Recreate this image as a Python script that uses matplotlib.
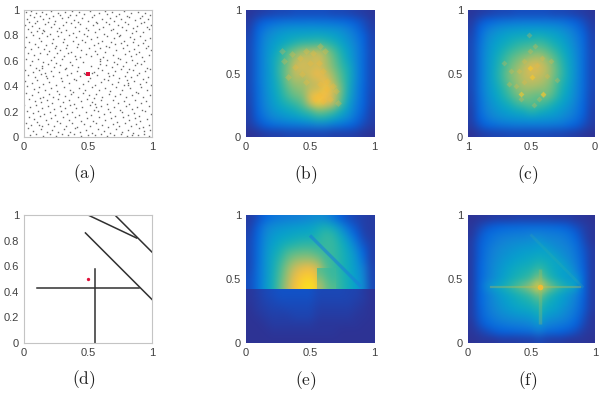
import matplotlib
matplotlib.use('Agg')
import matplotlib.pyplot as plt
from matplotlib.colors import LinearSegmentedColormap

plt.rcParams['font.family'] = ['Liberation Sans', 'DejaVu Sans']
plt.rcParams['mathtext.fontset'] = 'cm'

# ---- data ----
captions = ['(a)', '(b)', '(c)', '(d)', '(e)', '(f)']
ticks_fine = [0, 0.2, 0.4, 0.6, 0.8, 1]
ticks_fine_labels = ['0', '0.2', '0.4', '0.6', '0.8', '1']
ticks_coarse = [0, 0.5, 1]
ticks_coarse_labels = ['0', '0.5', '1']

source_x = 0.497
source_y = 0.5

# walls of panel (d): x0, x1, y0, y1
wall_1 = [0.50, 0.88, 1.00, 0.82]
wall_2 = [0.71, 1.00, 1.00, 0.71]
wall_3 = [0.48, 1.00, 0.86, 0.34]
wall_4 = [0.10, 0.90, 0.43, 0.43]
wall_5 = [0.555, 0.555, 0.00, 0.58]

# dots of panel (a), hand estimated from the crops, not every dot is resolved
dots = [
    (.013,.984),(.047,.962),(.058,.991),(.091,.973),(.126,.955),(.139,.988),(.171,.967),(.208,.992),(.224,.951),(.263,.978),
    (.281,.959),(.317,.986),(.356,.964),(.372,.993),(.404,.957),(.433,.981),(.471,.969),(.512,.989),(.548,.958),(.583,.976),
    (.634,.992),(.652,.965),(.689,.983),(.716,.949),(.744,.971),(.779,.995),(.803,.954),(.836,.979),(.892,.987),(.921,.952),
    (.947,.974),(.984,.958),(.022,.931),(.036,.908),(.079,.944),(.104,.917),(.152,.926),(.187,.903),(.196,.939),(.243,.912),
    (.298,.934),(.327,.906),(.341,.942),(.389,.921),(.418,.902),(.456,.936),(.497,.914),(.529,.943),(.561,.908),(.608,.927),
    (.643,.904),(.671,.938),(.702,.916),(.757,.933),(.788,.909),(.821,.941),(.868,.918),(.904,.936),(.936,.907),(.968,.929),
    (.009,.883),(.064,.872),(.083,.897),(.117,.861),(.163,.889),(.214,.868),(.236,.893),(.272,.857),(.308,.881),(.364,.894),
    (.397,.863),(.441,.886),(.483,.859),(.537,.878),(.574,.896),(.619,.869),(.661,.887),(.698,.854),(.733,.879),(.769,.863),
    (.812,.891),(.849,.858),(.881,.877),(.913,.898),(.958,.866),(.991,.882),(.028,.847),(.052,.826),(.098,.838),(.143,.819),
    (.148,.842),(.158,.831),(.202,.811),(.254,.836),(.289,.823),(.332,.845),(.379,.816),(.426,.834),(.466,.808),(.503,.841),
    (.554,.827),(.589,.851),(.627,.813),(.682,.839),(.726,.822),(.751,.807),(.794,.844),(.843,.817),(.876,.835),(.927,.826),
    (.973,.848),(.017,.789),(.069,.803),(.121,.782),(.178,.798),(.229,.773),(.267,.794),(.314,.768),(.351,.801),(.408,.784),
    (.452,.762),(.491,.797),(.523,.771),(.568,.788),(.612,.759),(.648,.793),(.707,.776),(.739,.798),(.783,.757),(.827,.786),
    (.862,.771),(.908,.795),(.943,.764),(.988,.781),(.041,.749),(.087,.733),(.133,.756),(.169,.728),(.218,.744),(.249,.718),
    (.303,.747),(.338,.726),(.384,.752),(.421,.731),(.476,.746),(.543,.723),(.581,.741),(.638,.716),(.677,.749),(.712,.729),
    (.761,.738),(.806,.721),(.851,.747),(.889,.726),(.931,.742),(.966,.713),(.006,.706),(.057,.689),(.109,.711),(.154,.694),
    (.196,.678),(.241,.703),(.278,.684),(.325,.697),(.369,.672),(.413,.709),(.448,.687),(.508,.702),(.552,.679),(.597,.698),
    (.631,.668),(.664,.707),(.721,.686),(.772,.703),(.817,.674),(.858,.692),(.902,.669),(.951,.701),(.995,.683),(.032,.659),
    (.076,.642),(.124,.664),(.182,.651),(.233,.627),(.261,.658),(.309,.636),(.346,.662),(.398,.641),(.437,.626),(.482,.653),
    (.527,.637),(.573,.657),(.618,.632),(.692,.648),(.734,.621),(.788,.651),(.833,.634),(.876,.656),(.919,.629),(.977,.644),
    (.019,.612),(.063,.596),(.113,.618),(.147,.589),(.208,.606),(.252,.584),(.294,.611),(.358,.594),(.403,.616),(.461,.591),
    (.591,.612),(.594,.596),(.592,.578),(.648,.603),(.703,.587),(.749,.614),(.796,.592),(.842,.609),(.886,.583),(.938,.601),
    (.043,.568),(.094,.547),(.137,.562),(.142,.541),(.191,.576),(.238,.553),(.283,.569),(.331,.543),(.376,.566),(.418,.551),
    (.527,.562),(.579,.544),(.641,.567),(.689,.548),(.727,.573),(.771,.556),(.823,.538),(.867,.564),(.911,.577),(.961,.546),
    (.011,.527),(.072,.512),(.119,.531),(.166,.506),(.213,.521),(.271,.509),(.322,.532),(.367,.504),(.412,.523),(.468,.507),
    (.476,.498),(.528,.503),(.549,.511),(.607,.526),(.658,.503),(.714,.519),(.758,.533),(.807,.508),(.853,.524),(.898,.501),
    (.949,.519),(.986,.534),(.034,.487),(.085,.471),(.129,.493),(.177,.462),(.223,.483),(.168,.478),(.286,.466),(.339,.488),
    (.392,.459),(.439,.479),(.518,.468),(.571,.486),(.623,.458),(.667,.477),(.699,.491),(.743,.464),(.791,.482),(.802,.451),
    (.838,.469),(.881,.489),(.926,.456),(.971,.474),(.007,.443),(.059,.428),(.102,.447),(.151,.419),(.198,.436),(.247,.411),
    (.299,.441),(.352,.424),(.407,.445),(.458,.417),(.503,.438),(.556,.412),(.602,.433),(.653,.449),(.684,.418),(.731,.437),
    (.779,.409),(.812,.429),(.814,.412),(.859,.442),(.907,.416),(.953,.436),(.993,.411),(.026,.398),(.078,.376),(.116,.392),
    (.161,.371),(.209,.387),(.258,.364),(.312,.396),(.361,.373),(.383,.352),(.429,.389),(.474,.367),(.531,.394),(.584,.369),
    (.629,.386),(.672,.361),(.718,.392),(.764,.372),(.829,.384),(.873,.358),(.917,.391),(.964,.367),(.014,.347),(.061,.328),
    (.107,.351),(.146,.318),(.194,.339),(.227,.316),(.276,.341),(.321,.323),(.371,.338),(.423,.312),(.463,.344),(.509,.327),
    (.547,.309),(.566,.336),(.612,.318),(.663,.342),(.708,.321),(.753,.339),(.798,.313),(.847,.331),(.893,.349),(.932,.317),
    (.981,.334),(.039,.297),(.089,.282),(.128,.304),(.134,.276),(.179,.293),(.219,.268),(.264,.299),(.306,.274),(.348,.291),
    (.394,.263),(.444,.283),(.496,.301),(.533,.272),(.558,.256),(.598,.289),(.646,.263),(.694,.294),(.737,.271),(.782,.286),
    (.824,.259),(.869,.292),(.914,.268),(.957,.284),(.003,.254),(.049,.233),(.097,.251),(.141,.226),(.186,.243),(.234,.218),
    (.281,.247),(.317,.229),(.363,.252),(.409,.227),(.451,.239),(.512,.249),(.543,.216),(.559,.233),(.604,.247),(.657,.224),
    (.701,.238),(.747,.214),(.793,.246),(.841,.221),(.884,.237),(.923,.212),(.975,.243),(.021,.203),(.068,.186),(.112,.207),
    (.157,.179),(.204,.196),(.244,.172),(.292,.204),(.334,.183),(.378,.199),(.432,.176),(.486,.194),(.521,.171),(.576,.201),
    (.622,.178),(.669,.193),(.711,.169),(.766,.198),(.809,.176),(.856,.191),(.899,.167),(.946,.202),(.992,.184),(.037,.158),
    (.082,.139),(.123,.162),(.168,.132),(.213,.151),(.259,.127),(.303,.156),(.354,.136),(.401,.161),(.443,.129),(.494,.148),
    (.538,.124),(.587,.154),(.636,.131),(.679,.149),(.724,.122),(.776,.157),(.819,.134),(.864,.152),(.905,.126),(.961,.141),
    (.012,.109),(.056,.092),(.101,.116),(.144,.087),(.191,.104),(.118,.095),(.237,.083),(.284,.112),(.326,.089),(.373,.107),
    (.416,.081),(.467,.101),(.517,.086),(.563,.114),(.609,.093),(.654,.078),(.697,.106),(.741,.084),(.787,.111),(.834,.088),
    (.878,.103),(.929,.079),(.978,.097),(.029,.067),(.074,.048),(.131,.064),(.176,.041),(.221,.058),(.269,.036),(.311,.062),
    (.359,.043),(.396,.069),(.438,.039),(.481,.057),(.534,.034),(.579,.063),(.626,.046),(.673,.029),(.719,.061),(.762,.042),
    (.814,.056),(.852,.031),(.896,.067),(.941,.044),(.987,.059),(.044,.018),(.093,.026),(.149,.011),(.201,.021),(.252,.009),
    (.296,.024),(.343,.014),(.391,.027),(.447,.008),(.501,.019),(.556,.012),(.601,.023),(.648,.007),(.706,.017),(.754,.026),
    (.801,.009),(.846,.019),(.887,.012),(.934,.024),(.974,.006)]
dots_x = [p[0] for p in dots]
dots_y = [p[1] for p in dots]

# bright mottled spots over the smooth grids of (b) and (c)
spots_b_x = [.42, .47, .52, .58, .62, .38, .44, .36, .50, .57, .60, .63, .68, .54, .57, .60, .66, .70, .72, .58, .63, .30, .33, .28, .47]
spots_b_y = [.62, .68, .66, .72, .68, .55, .50, .65, .58, .58, .52, .44, .40, .30, .33, .28, .30, .36, .27, .42, .38, .60, .47, .68, .43]
spots_c_x = [.56, .51, .47, .42, .62, .66, .58, .44, .38, .60, .35, .68, .52, .48, .41, .72, .30, .56, .46]
spots_c_y = [.60, .68, .72, .62, .40, .52, .30, .30, .48, .52, .60, .42, .80, .25, .33, .58, .45, .43, .57]
hot_c_x = [.51, .50, .58, .41]
hot_c_y = [.54, .47, .335, .335]

# intensity grids, first row is the top of the panel, values in percent of the colour range
grid_b = [
    [3, 4, 5, 6, 7, 7, 8, 8, 8, 8, 8, 7, 7, 6, 5, 4, 3],
    [4, 9, 13, 15, 17, 18, 18, 18, 19, 18, 18, 17, 16, 14, 11, 8, 4],
    [5, 13, 20, 25, 28, 30, 31, 31, 31, 31, 30, 29, 27, 23, 17, 10, 5],
    [6, 15, 25, 30, 34, 37, 38, 39, 40, 41, 40, 37, 33, 28, 21, 13, 6],
    [7, 16, 27, 33, 38, 42, 47, 50, 50, 52, 49, 46, 38, 31, 24, 14, 6],
    [7, 17, 28, 35, 45, 54, 60, 66, 68, 70, 64, 54, 45, 35, 25, 15, 7],
    [7, 17, 28, 38, 48, 58, 68, 74, 72, 77, 68, 58, 48, 37, 26, 15, 7],
    [7, 17, 28, 37, 50, 60, 74, 76, 72, 76, 68, 60, 50, 42, 27, 15, 7],
    [7, 17, 28, 37, 50, 62, 72, 72, 76, 82, 74, 64, 54, 44, 28, 15, 7],
    [7, 17, 28, 36, 48, 60, 68, 66, 72, 74, 82, 68, 56, 44, 27, 15, 7],
    [7, 16, 27, 36, 46, 56, 62, 64, 72, 72, 86, 76, 60, 42, 26, 14, 7],
    [6, 16, 26, 34, 44, 52, 58, 60, 80, 86, 82, 74, 58, 40, 25, 14, 6],
    [6, 15, 25, 33, 40, 46, 50, 56, 74, 88, 78, 74, 54, 36, 23, 13, 6],
    [5, 14, 23, 30, 34, 38, 42, 48, 52, 60, 58, 52, 42, 32, 21, 12, 5],
    [5, 12, 19, 25, 28, 31, 33, 36, 40, 45, 44, 38, 32, 26, 17, 10, 5],
    [4, 8, 12, 15, 17, 18, 19, 20, 21, 23, 22, 19, 17, 14, 11, 7, 4],
    [2, 3, 4, 5, 5, 6, 6, 6, 6, 6, 6, 5, 5, 5, 4, 3, 2]]

# columns run left to right as drawn, panel (c) has a reversed x axis
grid_c = [
    [3, 4, 5, 6, 7, 7, 8, 8, 8, 8, 8, 7, 7, 6, 5, 4, 3],
    [4, 9, 13, 16, 18, 19, 20, 20, 20, 20, 20, 19, 18, 15, 12, 8, 4],
    [5, 13, 21, 26, 29, 31, 32, 33, 33, 33, 32, 31, 28, 24, 18, 11, 5],
    [6, 15, 26, 31, 35, 38, 40, 41, 42, 44, 41, 38, 34, 29, 22, 14, 6],
    [7, 17, 28, 34, 39, 43, 47, 49, 50, 52, 49, 44, 39, 32, 24, 15, 6],
    [7, 18, 29, 36, 43, 49, 53, 56, 58, 60, 56, 50, 43, 35, 26, 16, 7],
    [7, 18, 30, 38, 47, 54, 59, 63, 68, 70, 64, 56, 47, 37, 27, 16, 7],
    [7, 18, 30, 39, 49, 57, 63, 70, 78, 76, 70, 60, 49, 38, 28, 16, 7],
    [7, 18, 30, 40, 50, 60, 66, 72, 76, 74, 70, 60, 50, 39, 28, 16, 7],
    [7, 18, 30, 39, 49, 58, 64, 70, 72, 70, 66, 58, 48, 38, 27, 16, 7],
    [7, 18, 29, 37, 46, 54, 62, 66, 66, 64, 62, 56, 45, 36, 26, 16, 7],
    [6, 17, 28, 35, 43, 50, 58, 62, 58, 56, 60, 52, 42, 34, 25, 15, 6],
    [6, 16, 26, 32, 38, 44, 50, 54, 56, 54, 50, 44, 37, 31, 23, 14, 6],
    [5, 15, 24, 29, 33, 36, 40, 42, 48, 44, 40, 36, 32, 27, 21, 13, 5],
    [5, 13, 20, 25, 28, 30, 31, 32, 33, 32, 31, 30, 27, 23, 18, 11, 5],
    [4, 9, 14, 16, 18, 19, 20, 20, 20, 20, 20, 19, 18, 15, 12, 8, 4],
    [2, 4, 5, 6, 6, 7, 7, 7, 7, 7, 7, 6, 6, 5, 4, 3, 2]]

# panel (e) jumps at the horizontal wall and at the vertical one,
# so it has one grid above, one below and one for the shaded piece
wall_e = 0.42
shade_e_x = 0.557
shade_e_right = 0.70
shade_e_top = 0.58
stripe_e_x = [0.50, 0.90]
stripe_e_y = [0.84, 0.44]
grid_e_upper = [
    [4, 8, 14, 19, 21, 22, 23, 24, 26, 28, 26, 20, 12, 8, 6, 5, 4],
    [5, 12, 23, 28, 30, 32, 33, 34, 36, 40, 44, 38, 28, 16, 9, 5, 4],
    [6, 14, 26, 32, 35, 37, 39, 40, 40, 46, 50, 48, 38, 26, 13, 6, 4],
    [7, 15, 28, 35, 40, 44, 46, 48, 48, 48, 50, 50, 44, 34, 21, 9, 5],
    [7, 16, 29, 38, 45, 52, 55, 56, 56, 52, 50, 50, 46, 38, 28, 13, 5],
    [7, 16, 30, 40, 49, 58, 64, 66, 66, 62, 52, 50, 46, 40, 31, 17, 5],
    [7, 17, 30, 41, 52, 64, 74, 80, 82, 74, 56, 50, 46, 40, 33, 23, 6],
    [8, 17, 30, 42, 54, 67, 80, 88, 90, 80, 58, 52, 47, 41, 34, 25, 6],
    [8, 17, 31, 42, 56, 70, 84, 93, 95, 88, 60, 54, 48, 42, 35, 27, 7]]
grid_e_shade = [
    [56, 52, 50],
    [62, 55, 51],
    [68, 58, 54]]
grid_e_lower = [
    [3, 5, 7, 8, 9, 9, 9, 9, 9, 7, 7, 7, 7, 6, 6, 4, 2],
    [3, 4, 6, 7, 8, 8, 8, 8, 8, 6, 6, 6, 6, 6, 5, 4, 2],
    [2, 4, 5, 6, 6, 7, 7, 7, 7, 5, 5, 5, 5, 5, 4, 3, 2],
    [2, 3, 4, 5, 5, 5, 6, 6, 6, 4, 4, 4, 4, 4, 3, 3, 2],
    [2, 2, 3, 4, 4, 4, 4, 4, 4, 3, 3, 3, 3, 3, 3, 2, 2],
    [2, 2, 2, 3, 3, 3, 3, 3, 3, 3, 3, 3, 2, 2, 2, 2, 2],
    [2, 2, 2, 2, 2, 2, 2, 2, 2, 2, 2, 2, 2, 2, 2, 2, 2]]

# thin arms of the cross in (f)
cross_f_x = 0.567
cross_f_y = 0.44
arm_h_x = [0.18, 0.88]
arm_v_y = [0.15, 0.58]
grid_f = [
    [2, 3, 3, 4, 4, 4, 5, 5, 5, 5, 5, 4, 4, 4, 3, 3, 2],
    [3, 6, 10, 12, 14, 15, 15, 16, 16, 16, 16, 15, 14, 11, 8, 5, 3],
    [3, 9, 15, 18, 20, 21, 22, 22, 24, 24, 23, 22, 21, 18, 12, 6, 3],
    [4, 11, 17, 21, 24, 26, 27, 28, 29, 32, 27, 26, 24, 21, 16, 8, 3],
    [4, 12, 19, 24, 27, 29, 31, 33, 33, 35, 36, 29, 27, 24, 18, 10, 4],
    [4, 12, 20, 25, 29, 32, 34, 36, 38, 40, 38, 38, 30, 26, 20, 11, 4],
    [4, 13, 21, 27, 31, 35, 38, 40, 42, 46, 43, 38, 38, 29, 22, 12, 4],
    [4, 13, 21, 28, 33, 38, 42, 45, 47, 54, 46, 40, 35, 36, 24, 13, 4],
    [4, 13, 22, 28, 34, 40, 45, 48, 52, 64, 50, 44, 37, 32, 34, 14, 4],
    [4, 14, 28, 36, 42, 48, 54, 60, 68, 90, 66, 56, 48, 42, 36, 14, 4],
    [4, 13, 21, 28, 34, 39, 44, 48, 52, 62, 50, 43, 36, 31, 24, 13, 4],
    [4, 13, 21, 27, 32, 36, 40, 43, 46, 52, 43, 39, 34, 29, 22, 12, 4],
    [4, 12, 20, 25, 30, 33, 36, 38, 40, 46, 39, 36, 31, 26, 20, 11, 4],
    [4, 11, 18, 22, 26, 28, 30, 31, 33, 40, 32, 30, 27, 23, 17, 9, 3],
    [3, 9, 14, 18, 20, 22, 23, 24, 26, 32, 25, 23, 21, 18, 13, 7, 3],
    [3, 5, 8, 11, 13, 14, 15, 16, 17, 22, 16, 15, 13, 11, 8, 4, 3],
    [2, 3, 3, 3, 4, 4, 4, 5, 5, 7, 5, 4, 4, 3, 3, 3, 2]]

# parula
parula = LinearSegmentedColormap.from_list('parula', [
    (0.000, (0.2081, 0.1663, 0.5292)), (0.127, (0.0117, 0.3875, 0.8820)),
    (0.238, (0.0779, 0.5040, 0.8384)), (0.349, (0.0239, 0.6287, 0.8038)),
    (0.444, (0.0843, 0.6928, 0.7062)), (0.540, (0.3022, 0.7376, 0.5712)),
    (0.635, (0.5709, 0.7485, 0.4494)), (0.746, (0.8185, 0.7327, 0.3498)),
    (0.825, (0.9739, 0.7314, 0.2666)), (0.920, (0.9789, 0.8271, 0.1633)),
    (1.000, (0.9763, 0.9831, 0.0538))])

W, H = 604, 394
fig = plt.figure(figsize=(W / 100, H / 100), dpi=100)


def panel(left, right, top, bottom, caption, cap_x, cap_y, fine=False, edge='#c4c4c4'):
    ax = fig.add_axes([left / W, 1 - bottom / H, (right - left) / W, (bottom - top) / H])
    ax.set_xlim(0, 1)
    ax.set_ylim(0, 1)
    ax.set_xticks(ticks_coarse, ticks_coarse_labels)
    if fine:
        ax.set_yticks(ticks_fine, ticks_fine_labels)
    else:
        ax.set_yticks(ticks_coarse, ticks_coarse_labels)
    ax.tick_params(length=0, labelsize=8, labelcolor='#404040', pad=3.5)
    for s in ax.spines.values():
        s.set_color(edge)
        s.set_linewidth(0.8)
    fig.text(cap_x / W, 1 - cap_y / H, '$\\mathrm{' + caption + '}$', fontsize=12.5,
             ha='center', va='center', color='#202020')
    return ax


def heat(ax, grid, extent):
    ax.imshow(grid, extent=extent, cmap=parula, vmin=0, vmax=100, aspect='auto',
              interpolation='bicubic', interpolation_stage='rgba')


# (a)
ax = panel(24, 152, 10, 137, captions[0], 84, 174, fine=True)
ax.plot(dots_x, dots_y, linestyle='none', marker='s', ms=1.0, mew=0, color='#6a6a6a')
ax.plot(source_x, source_y, linestyle='none', marker='s', ms=2.2, mew=0, color='#e0103a')

# (b)
ax = panel(246, 374, 10, 137, captions[1], 306, 175, edge='none')
heat(ax, grid_b, [0, 1, 0, 1])
ax.plot(spots_b_x, spots_b_y, linestyle='none', marker='D', ms=3.5, mew=0, color='#f5b93a', alpha=0.28)

# (c)
ax = panel(468, 595, 10, 137, captions[2], 528, 175, edge='none')
heat(ax, grid_c, [1, 0, 0, 1])
ax.plot(spots_c_x, spots_c_y, linestyle='none', marker='D', ms=3, mew=0, color='#f0b840', alpha=0.28)
ax.plot(hot_c_x, hot_c_y, linestyle='none', marker='D', ms=3, mew=0, color='#fbc82a', alpha=0.6)
ax.set_xlim(1, 0)
ax.set_ylim(0, 1)
ax.set_xticks(ticks_coarse, ticks_coarse_labels)

# (d)
ax = panel(24, 152, 215, 343, captions[3], 84, 380, fine=True)
for w in [wall_1, wall_2, wall_3, wall_4, wall_5]:
    ax.plot(w[:2], w[2:], color='#303030', lw=1.1)
ax.plot(source_x, source_y, linestyle='none', marker='o', ms=2.4, mew=0, color='#e0103a')

# (e)
ax = panel(246, 374, 215, 343, captions[4], 306, 381, edge='none')
heat(ax, grid_e_upper, [0, 1, wall_e, 1])
heat(ax, grid_e_shade, [shade_e_x, shade_e_right, wall_e, shade_e_top])
heat(ax, grid_e_lower, [0, 1, 0, wall_e])
ax.set_xlim(0, 1)
ax.set_ylim(0, 1)
ax.plot(stripe_e_x, stripe_e_y, color='#1a80d8', lw=2.4, alpha=0.6, solid_capstyle='butt')

# (f)
ax = panel(468, 595, 215, 343, captions[5], 528, 381, edge='none')
heat(ax, grid_f, [0, 1, 0, 1])
ax.set_xlim(0, 1)
ax.set_ylim(0, 1)
ax.plot(arm_h_x, [cross_f_y, cross_f_y], color='#c8bc46', lw=1.6, alpha=0.35)
ax.plot([cross_f_x, cross_f_x], arm_v_y, color='#a4bc5a', lw=2.5, alpha=0.3, solid_capstyle='butt')
ax.plot(stripe_e_x, stripe_e_y, color='#40b0a0', lw=2, alpha=0.2)
ax.plot(cross_f_x, cross_f_y, marker='o', ms=4, mew=0, color='#f8bc30', alpha=0.9)

fig.savefig('out.png', dpi=100)
